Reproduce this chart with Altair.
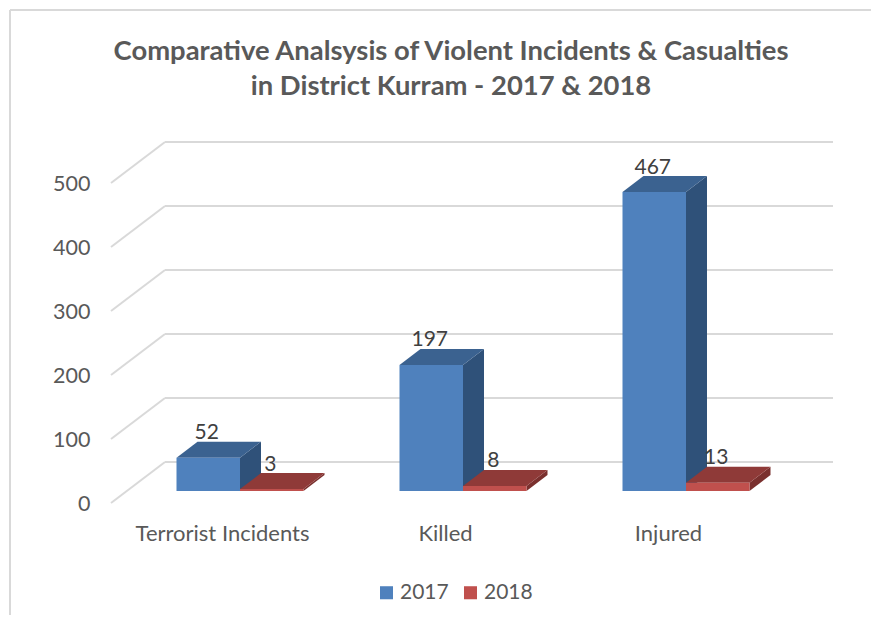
import altair as alt
import pandas as pd

categories = ["Terrorist Incidents", "Killed", "Injured"]
years = ["2017", "2018"]
values_2017 = [52, 197, 467]
values_2018 = [3, 8, 13]
tick_values = [0, 100, 200, 300, 400, 500]

FRONT = {"2017": "#4F81BD", "2018": "#C0504D"}
TOP = {"2017": "#3B6290", "2018": "#8F3A38"}
SIDE = {"2017": "#2F5179", "2018": "#7A302E"}
GRID = "#D9D9D9"
TEXT = "#595959"
FONT = "Lato"

W, H = 863, 607
PX_X = 223.0          # px per category slot
PX_Y = 0.64           # px per value unit
X0, Y0 = 232.0, 483.0 # plot position of slot 0 / value 0
xdom = [-X0 / PX_X, (W - X0) / PX_X]
ydom = [-(H - Y0) / PX_Y, Y0 / PX_Y]
xs = alt.Scale(domain=xdom, range=[0, W], nice=False, zero=False)
ys = alt.Scale(domain=ydom, range=[H, 0], nice=False, zero=False)

BAR_W = 63.5 / PX_X
DX = 21 / PX_X        # bar depth, x
DV = 16 / PX_Y        # bar depth, value
WALL_V = 29 / PX_Y    # back wall above bar floor
WALL_L = (165 - 240) / PX_X
WALL_R = (833 - 240) / PX_X
DIAG_X = (111 - 240) / PX_X
DIAG_V = 41 / PX_Y
TICK_SHIFT = -21.0
CAT_SHIFT = -18 / PX_X

X = lambda f, **k: alt.X(f"{f}:Q", scale=xs, **k)
Y = lambda f, **k: alt.Y(f"{f}:Q", scale=ys, **k)

# axes carried by an invisible layer
axis_df = pd.DataFrame({"x": [i + CAT_SHIFT for i in range(3)], "y": [t + TICK_SHIFT for t in tick_values[:3]]})
cat_expr = "[" + ",".join(f"'{c}'" for c in categories) + f"][round(datum.value - ({CAT_SHIFT}))]"
axes = alt.Chart(axis_df).mark_point(opacity=0).encode(
    x=alt.X("x:Q", scale=xs, title=None, axis=alt.Axis(
        values=[i + CAT_SHIFT for i in range(3)], labelExpr=cat_expr, grid=False, domain=False, ticks=False,
        offset=-(H - 525), labelPadding=0, labelBaseline="middle", labelFontSize=22, labelFont=FONT,
        labelColor=TEXT, labelFlush=False, labelOverlap=False)),
    y=alt.Y("y:Q", scale=ys, title=None, axis=alt.Axis(
        values=[t + TICK_SHIFT for t in tick_values], labelExpr=f"round(datum.value - ({TICK_SHIFT}))",
        grid=False, domain=False, ticks=False, offset=-82, labelPadding=0, labelFontSize=21.5, labelFont=FONT,
        labelColor=TEXT, labelFlush=False, labelOverlap=False)),
)

# chart frame
one = pd.DataFrame({"a": [0]})
frame_l = alt.Chart(one).mark_rule(color=GRID, strokeWidth=2).encode(x=alt.value(2), y=alt.value(2), y2=alt.value(H))
frame_t = alt.Chart(one).mark_rule(color=GRID, strokeWidth=2).encode(x=alt.value(2), x2=alt.value(W), y=alt.value(2))

# wall gridlines and left wall diagonals
wall = pd.DataFrame({"x": [WALL_L] * 6, "x2": [WALL_R] * 6, "y": [t + WALL_V for t in tick_values]})
wall_rules = alt.Chart(wall).mark_rule(color=GRID, strokeWidth=2).encode(x=X("x", title=None), x2="x2:Q", y=Y("y", title=None))
diag = pd.DataFrame({"x": [DIAG_X] * 6, "x2": [WALL_L] * 6,
                     "y": [t + WALL_V - DIAG_V for t in tick_values], "y2": [t + WALL_V for t in tick_values]})
diag_rules = alt.Chart(diag).mark_rule(color=GRID, strokeWidth=2).encode(x=X("x", title=None), x2="x2:Q", y=Y("y", title=None), y2="y2:Q")

layers = [frame_l, frame_t, wall_rules, diag_rules, axes]
labels = []
for yr, vals in zip(years, [values_2017, values_2018]):
    off = -BAR_W if yr == "2017" else 0.0
    side, top, front = [], [], []
    for i, (c, v) in enumerate(zip(categories, vals)):
        l = i + off
        r = l + BAR_W
        side += [{"c": c, "x": r, "y": v, "y2": 0}, {"c": c, "x": r + DX, "y": v + DV, "y2": DV}]
        top += [{"c": c, "x": l, "x2": r, "y": v}, {"c": c, "x": l + DX, "x2": r + DX, "y": v + DV}]
        front.append({"c": c, "year": yr, "x": l, "x2": r, "y": v, "y2": 0, "mid": (l + r) / 2})
    layers.append(alt.Chart(pd.DataFrame(side)).mark_area(color=SIDE[yr], orient="vertical").encode(
        x=X("x", title=None), y=Y("y", title=None), y2="y2:Q", detail="c:N"))
    layers.append(alt.Chart(pd.DataFrame(top)).mark_area(color=TOP[yr], orient="horizontal").encode(
        y=Y("y", title=None), x=X("x", title=None), x2="x2:Q", detail="c:N"))
    fdf = pd.DataFrame(front)
    layers.append(alt.Chart(fdf).mark_rect().encode(
        x=X("x", title=None), x2="x2:Q", y=Y("y", title=None), y2="y2:Q",
        color=alt.Color("year:N", scale=alt.Scale(domain=years, range=[FRONT[y] for y in years]), legend=alt.Legend(
            title=None, orient="none", legendX=368, legendY=574, direction="horizontal", symbolType="square",
            symbolSize=170, symbolStrokeWidth=0, labelFontSize=21, labelFont=FONT, labelColor=TEXT,
            columnPadding=11, labelOffset=3, symbolOpacity=1))))
    labels.append(alt.Chart(fdf).mark_text(fontSize=21, font=FONT, color="#404040", dy=-24.5, dx=-1.5).encode(
        x=X("mid", title=None), y=Y("y", title=None), text="y:Q"))

chart = alt.layer(*layers, *labels).properties(
    width=W, height=H,
    padding=0,
    autosize=alt.AutoSizeParams(type="none"),
    title=alt.TitleParams(
        text=["Comparative Analsysis of Violent Incidents & Casualties", "in District Kurram - 2017 & 2018"],
        anchor="start", frame="group", align="center", dx=443, offset=-92, font=FONT, fontSize=27.4, fontWeight="bold",
        color=TEXT, lineHeight=35),
    background="white",
).configure_view(stroke=None)

chart.save("out.html", embed_options={"renderer": "svg", "actions": False})
